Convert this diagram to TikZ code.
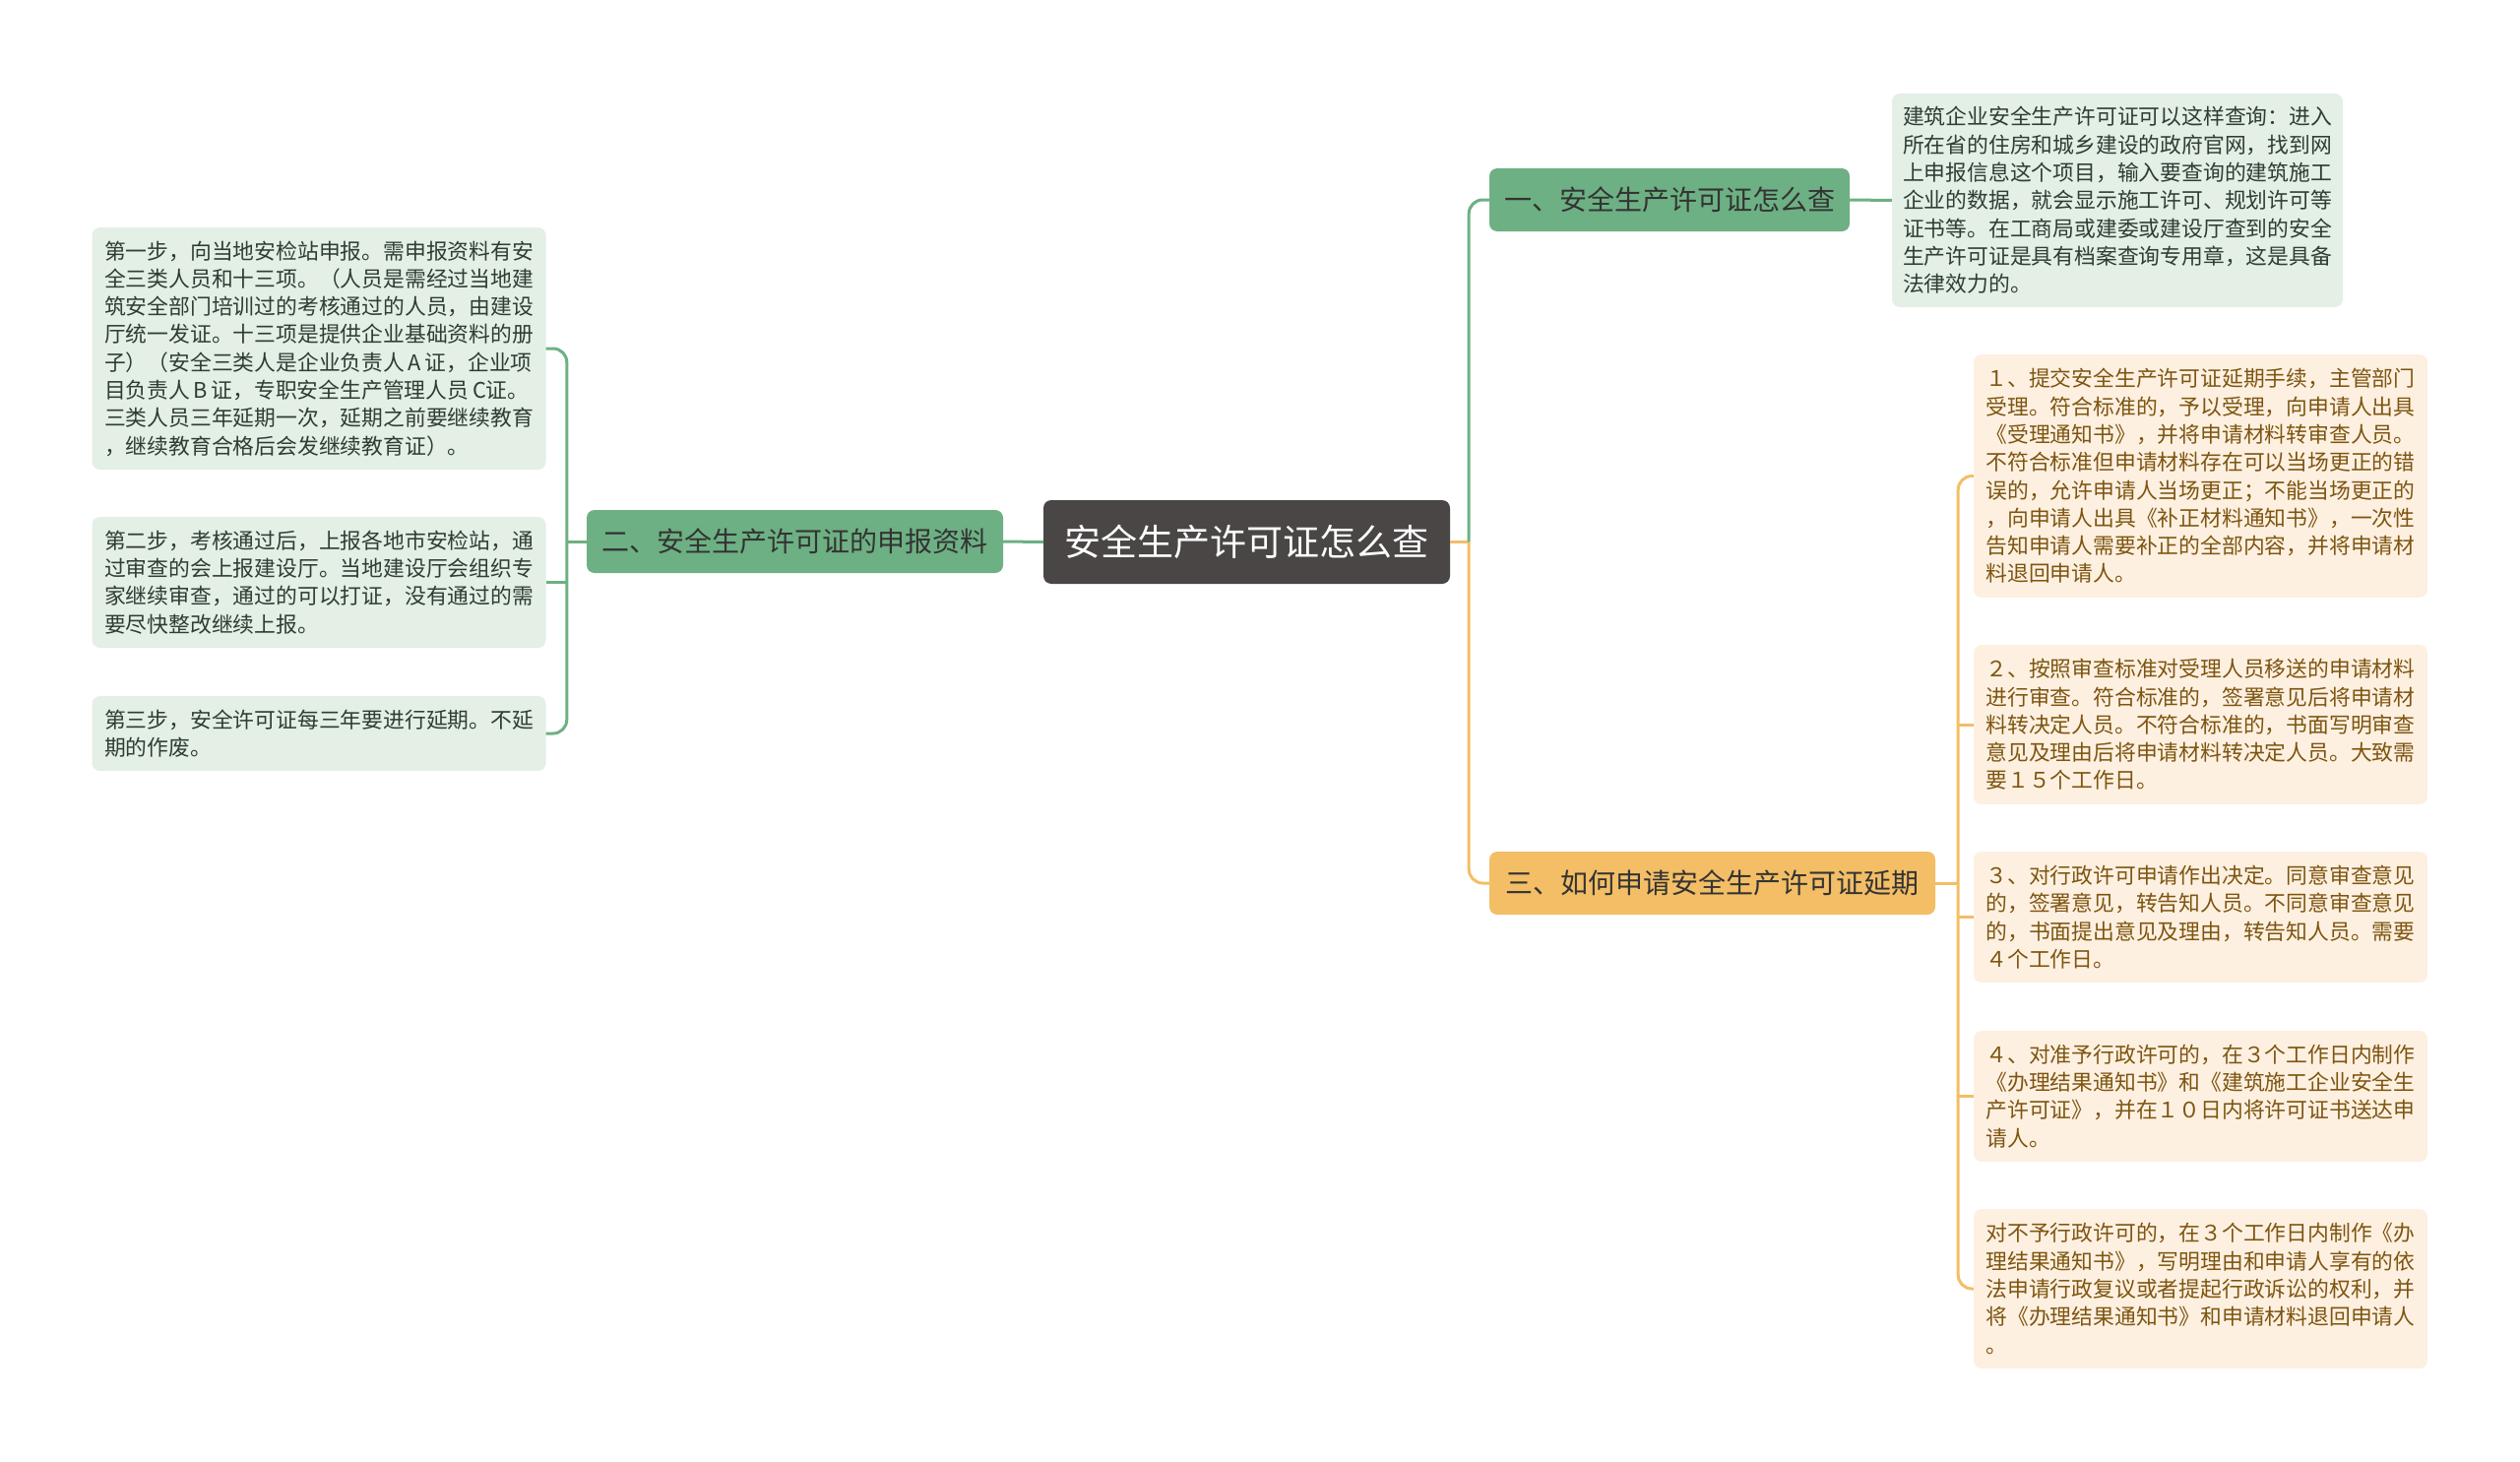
\documentclass[tikz,border=0pt]{standalone}
\usepackage{fontspec}
\setmainfont{Noto Sans CJK SC}
\usetikzlibrary{calc}
\definecolor{rootgray}{HTML}{4A4646}
\definecolor{brgreen}{HTML}{6DB083}
\definecolor{brorange}{HTML}{F3BE66}
\definecolor{lfgreen}{HTML}{E4EFE6}
\definecolor{lforange}{HTML}{FDF0E1}
\definecolor{txgreen}{HTML}{2F3D33}
\definecolor{txorange}{HTML}{7E5510}

\begin{document}
\begin{tikzpicture}[x=1pt,y=-1pt,
    every node/.style={rounded corners=8pt,inner sep=0pt},
    rootbox/.style={fill=rootgray,text=white,font=\fontsize{37}{44}\selectfont,minimum width=413pt,minimum height=85pt},
    branchbox/.style={text=black!80,font=\fontsize{28}{34}\selectfont,minimum height=64pt},
    leafbox/.style={align=left,text width=436pt,minimum width=461pt,minimum height=#1,font=\fontsize{21.8}{28.3}\selectfont},
    gleaf/.style={leafbox=#1,fill=lfgreen,text=txgreen},
    oleaf/.style={leafbox=#1,fill=lforange,text=txorange},
    gline/.style={draw=brgreen,line width=3pt,rounded corners=14pt},
    oline/.style={draw=brorange,line width=3pt,rounded corners=14pt}]
    \useasboundingbox (0,0) rectangle (2560,1485);
    % centre and branches
    \node[rootbox] (root) at (1266.5,550.5) {安全生产许可证怎么查};
    \node[branchbox,fill=brgreen,minimum width=423pt] (b2) at (807.5,550) {二、安全生产许可证的申报资料};
    \node[branchbox,fill=brgreen,minimum width=366pt] (b1) at (1696,203) {一、安全生产许可证怎么查};
    \node[branchbox,fill=brorange,minimum width=453pt] (b3) at (1739.5,897) {三、如何申请安全生产许可证延期};
    % left leaves
    \node[gleaf=246pt] (l1) at (324,354) {第一步，向当地安检站申报。需申报资料有安\\全三类人员和十三项。（人员是需经过当地建\\筑安全部门培训过的考核通过的人员，由建设\\厅统一发证。十三项是提供企业基础资料的册\\子）（安全三类人是企业负责人\,A\,证，企业项\\目负责人\,B\,证，专职安全生产管理人员\,C证。\\三类人员三年延期一次，延期之前要继续教育\\，继续教育合格后会发继续教育证）。};
    \node[gleaf=133pt] (l2) at (324,591.5) {第二步，考核通过后，上报各地市安检站，通\\过审查的会上报建设厅。当地建设厅会组织专\\家继续审查，通过的可以打证，没有通过的需\\要尽快整改继续上报。};
    \node[gleaf=76pt] (l3) at (324,745) {第三步，安全许可证每三年要进行延期。不延\\期的作废。};
    % right leaves
    \node[gleaf=217pt,minimum width=458pt] (g1) at (2151,203.5) {建筑企业安全生产许可证可以这样查询：进入\\所在省的住房和城乡建设的政府官网，找到网\\上申报信息这个项目，输入要查询的建筑施工\\企业的数据，就会显示施工许可、规划许可等\\证书等。在工商局或建委或建设厅查到的安全\\生产许可证是具有档案查询专用章，这是具备\\法律效力的。};
    \node[oleaf=247pt] (r1) at (2235.5,483.5) {１、提交安全生产许可证延期手续，主管部门\\受理。符合标准的，予以受理，向申请人出具\\《受理通知书》，并将申请材料转审查人员。\\不符合标准但申请材料存在可以当场更正的错\\误的，允许申请人当场更正；不能当场更正的\\，向申请人出具《补正材料通知书》，一次性\\告知申请人需要补正的全部内容，并将申请材\\料退回申请人。};
    \node[oleaf=162pt] (r2) at (2235.5,736) {２、按照审查标准对受理人员移送的申请材料\\进行审查。符合标准的，签署意见后将申请材\\料转决定人员。不符合标准的，书面写明审查\\意见及理由后将申请材料转决定人员。大致需\\要１５个工作日。};
    \node[oleaf=133pt] (r3) at (2235.5,931.5) {３、对行政许可申请作出决定。同意审查意见\\的，签署意见，转告知人员。不同意审查意见\\的，书面提出意见及理由，转告知人员。需要\\４个工作日。};
    \node[oleaf=133pt] (r4) at (2235.5,1113.5) {４、对准予行政许可的，在３个工作日内制作\\《办理结果通知书》和《建筑施工企业安全生\\产许可证》，并在１０日内将许可证书送达申\\请人。};
    \node[oleaf=162pt] (r5) at (2235.5,1309) {对不予行政许可的，在３个工作日内制作《办\\理结果通知书》，写明理由和申请人享有的依\\法申请行政复议或者提起行政诉讼的权利，并\\将《办理结果通知书》和申请材料退回申请人\\。};
    % connectors
    \draw[gline] (root.west) -- (b2.east);
    \draw[gline] (b2.west) -- ++(-20,0) coordinate (lj);
    \draw[gline] (l1.east) -- (lj |- l1.east) -- (lj |- l3.east) -- (l3.east);
    \draw[gline] (l2.east) -- (lj |- l2.east);
    \draw[oline] (root.east) -- ++(19,0) coordinate (rj);
    \draw[gline] (rj) -- (rj |- b1.west) -- (b1.west);
    \draw[oline] (rj) -- (rj |- b3.west) -- (b3.west);
    \draw[gline] (b1.east) -- (g1.west);
    \draw[oline] (b3.east) -- ++(23,0) coordinate (oj);
    \draw[oline] (r1.west) -- (oj |- r1.west) -- (oj |- r5.west) -- (r5.west);
    \foreach \n in {r2,r3,r4} \draw[oline] (\n.west) -- (oj |- \n.west);
\end{tikzpicture}
\end{document}
